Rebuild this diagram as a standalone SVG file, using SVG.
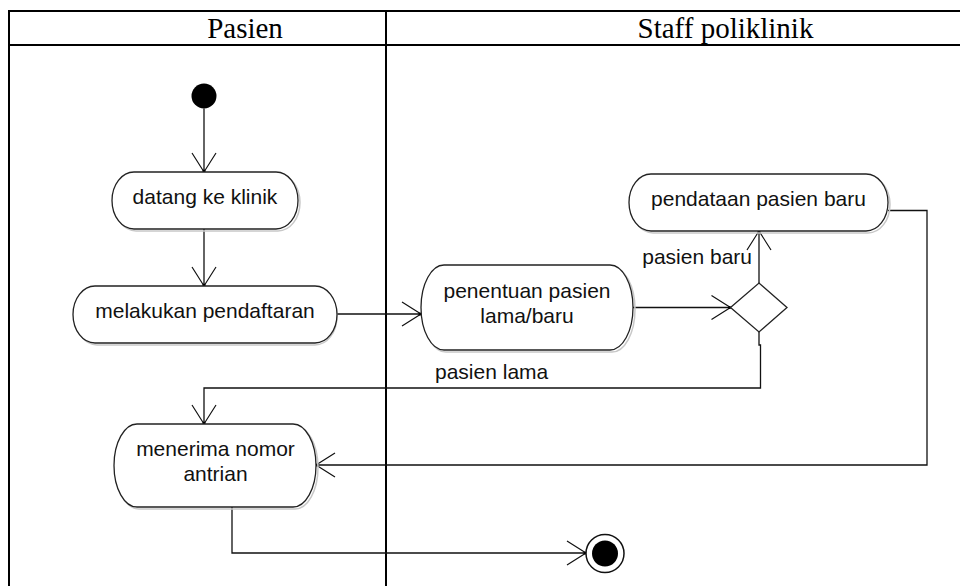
<svg xmlns="http://www.w3.org/2000/svg" width="960" height="586" viewBox="0 0 960 586">
<style>
.lane{stroke:#000;stroke-width:2;fill:none}
.hdr{font-family:"Liberation Serif","Times New Roman",serif;font-size:29px;fill:#000;text-anchor:middle}
.act{fill:#fff;stroke:#222;stroke-width:1.3}
.shadow{fill:none;stroke:#c8c8c8;stroke-width:1.5}
.lbl{font-family:"Liberation Sans",Arial,sans-serif;font-size:21px;fill:#111}
.mid{text-anchor:middle}
.edge{stroke:#111;stroke-width:1.3;fill:none}
</style>
<defs>
<marker id="arr" markerUnits="userSpaceOnUse" viewBox="-22 -14 24 28" refX="0" refY="0" markerWidth="24" markerHeight="28" orient="auto" overflow="visible">
<path d="M-19,-12 L0,0 L-19,12" fill="none" stroke="#111" stroke-width="1.2"/>
<circle cx="-1" cy="0" r="1.6" fill="#000"/>
</marker>
</defs>
<rect width="960" height="586" fill="#fff"/>
<g id="swimlanes">
<line class="lane" x1="9" y1="11" x2="960" y2="11"/>
<line class="lane" x1="9" y1="45" x2="960" y2="45"/>
<line class="lane" x1="9" y1="10" x2="9" y2="586"/>
<line class="lane" x1="386" y1="11" x2="386" y2="586"/>
<text class="hdr" x="245" y="37.5">Pasien</text>
<text class="hdr" x="725.5" y="37.5">Staff poliklinik</text>
</g>
<g id="connectors">
<path class="edge" d="M204,108.5 L204,172" marker-end="url(#arr)"/>
<path class="edge" d="M204,229 L204,286" marker-end="url(#arr)"/>
<path class="edge" d="M337,314 L421,314" marker-end="url(#arr)"/>
<path class="edge" d="M633,307.5 L730.5,307.5" marker-end="url(#arr)"/>
<path class="edge" d="M759,283 L759,231" marker-end="url(#arr)"/>
<text class="lbl" x="752" y="263.5" text-anchor="end">pasien baru</text>
<path class="edge" d="M759,332 L759,345 L760.5,345 L760.5,388 L204,388 L204,424" marker-end="url(#arr)"/>
<text class="lbl" x="435" y="379">pasien lama</text>
<path class="edge" d="M888,210.5 L927,210.5 L927,465 L316,465" marker-end="url(#arr)"/>
<path class="edge" d="M232,507 L232,553 L586,553" marker-end="url(#arr)"/>
</g>
<g id="start">
<circle cx="204" cy="96" r="12.5" fill="#000"/>
</g>
<g id="datang">
<rect class="shadow" x="114" y="174" width="186" height="57" rx="22" ry="28.5"/>
<rect class="act" x="112" y="172" width="186" height="57" rx="22" ry="28.5"/>
<text class="lbl mid" x="205" y="203.5">datang ke klinik</text>
</g>
<g id="melakukan">
<rect class="shadow" x="75" y="288" width="262" height="57" rx="22" ry="28.5"/>
<rect class="act" x="73" y="286" width="264" height="57" rx="22" ry="28.5"/>
<text class="lbl mid" x="205" y="317.5">melakukan pendaftaran</text>
</g>
<g id="penentuan">
<rect class="shadow" x="423" y="267" width="212" height="85" rx="23" ry="42.5"/>
<rect class="act" x="421" y="265" width="212" height="85" rx="23" ry="42.5"/>
<text class="lbl mid" x="527" y="298">penentuan pasien</text>
<text class="lbl mid" x="527" y="323">lama/baru</text>
</g>
<g id="decision">
<polygon points="730.5,307.5 759,283 787,307.5 759,332" fill="#fff" stroke="#222" stroke-width="1.3"/>
</g>
<g id="pendataan">
<rect class="shadow" x="631" y="176" width="259" height="57" rx="22" ry="28.5"/>
<rect class="act" x="629" y="174" width="259" height="57" rx="22" ry="28.5"/>
<text class="lbl mid" x="758.5" y="205.5">pendataan pasien baru</text>
</g>
<g id="menerima">
<rect class="shadow" x="116" y="426" width="202" height="83" rx="23" ry="41.5"/>
<rect class="act" x="114" y="424" width="202" height="83" rx="23" ry="41.5"/>
<text class="lbl mid" x="215.5" y="456">menerima nomor</text>
<text class="lbl mid" x="215.5" y="480.5">antrian</text>
</g>
<g id="end">
<circle cx="605" cy="553.5" r="19" fill="#fff" stroke="#111" stroke-width="1.5"/>
<circle cx="605" cy="553.5" r="13" fill="#000"/>
</g>
</svg>
